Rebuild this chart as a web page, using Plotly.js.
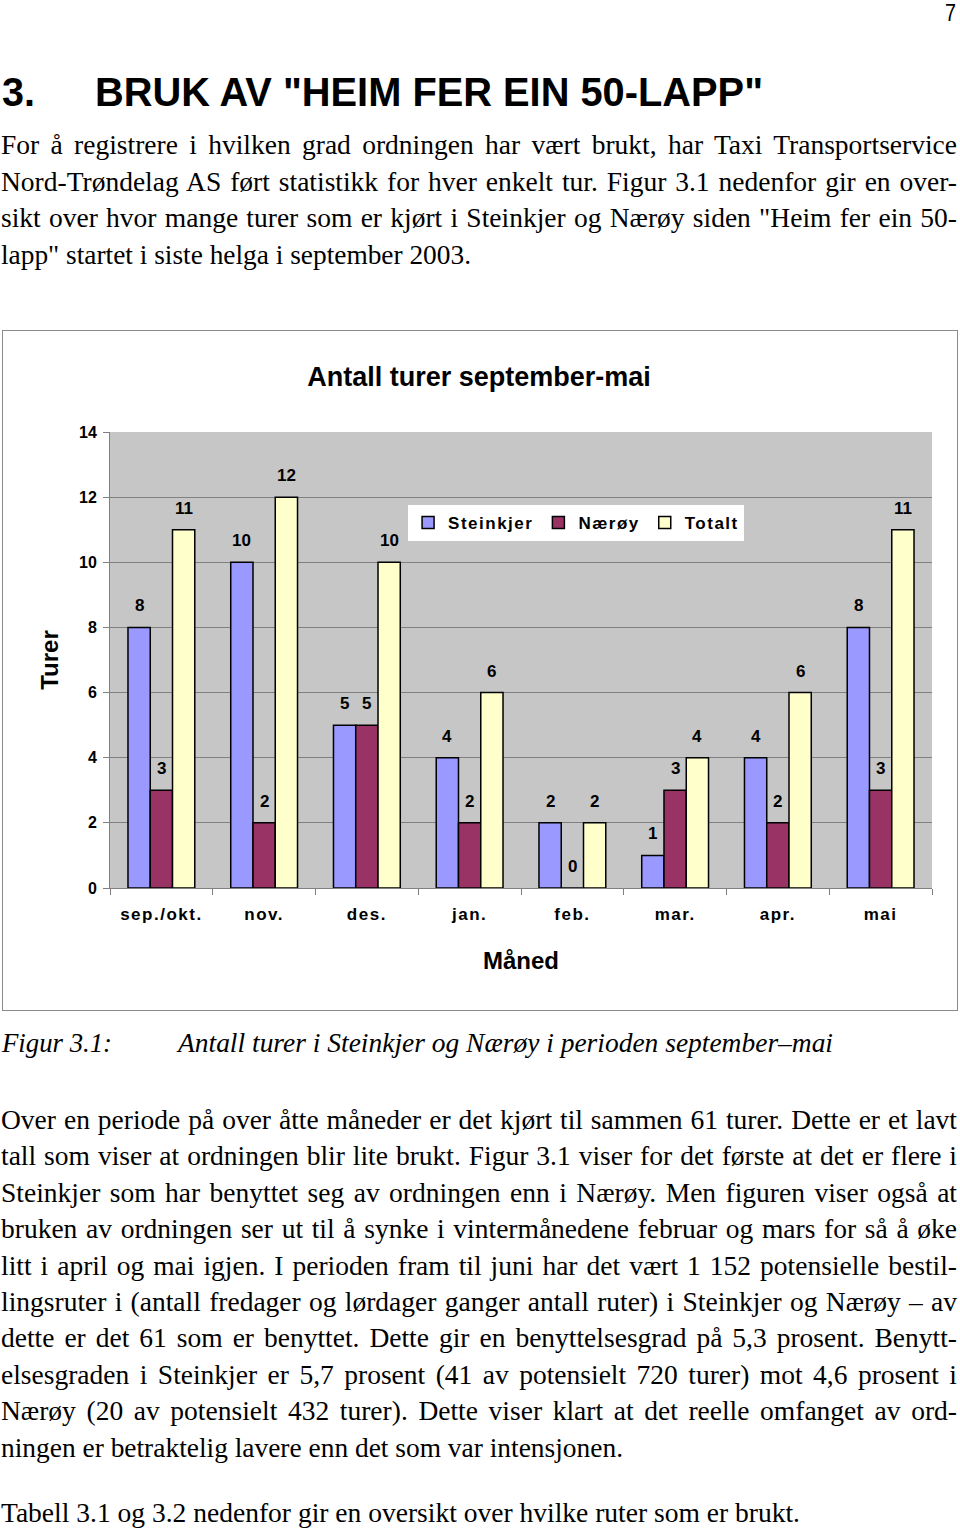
<!DOCTYPE html>
<html>
<head>
<meta charset="utf-8">
<script src="https://cdn.plot.ly/plotly-3.0.1.min.js"></script>
<style>
  html, body { margin:0; padding:0; background:#fff; }
  body { width:960px; height:1531px; position:relative; overflow:hidden; }
  #page { position:absolute; left:0; top:0; }
  #chart { position:absolute; left:2px; top:330px; width:956px; height:681px; }
  #frame { position:absolute; left:2px; top:330px; width:956px; height:681px; box-sizing:border-box; border:1.5px solid #8a8a8a; pointer-events:none; }
  .xtick text { letter-spacing:1.5px; }
  text.legendtext { letter-spacing:1.5px; }
</style>
</head>
<body>
<svg id="page" width="960" height="1531" xmlns="http://www.w3.org/2000/svg"></svg>
<div id="chart"></div>
<div id="frame"></div>
<script>
// ---------- chart data ----------
const months = ['sep./okt.', 'nov.', 'des.', 'jan.', 'feb.', 'mar.', 'apr.', 'mai'];
const steinkjer = [8, 10, 5, 4, 2, 1, 4, 8];
const naeroy    = [3, 2, 5, 2, 0, 3, 2, 3];
const totalt    = [11, 12, 10, 6, 2, 4, 6, 11];
const seriesNames = ['Steinkjer', 'Nærøy', 'Totalt'];
const seriesColors = ['#9999ff', '#993366', '#ffffcc'];
const chartTitle = 'Antall turer september-mai';
const xTitle = 'Måned';
const yTitle = 'Turer';
const yTicks = [0, 2, 4, 6, 8, 10, 12, 14];

// ---------- page text ----------
const pageNumber = '7';
const headingNum = '3.';
const headingText = 'BRUK AV "HEIM FER EIN 50-LAPP"';
const para1 = [
  'For å registrere i hvilken grad ordningen har vært brukt, har Taxi Transportservice',
  'Nord-Trøndelag AS ført statistikk for hver enkelt tur. Figur 3.1 nedenfor gir en over-',
  'sikt over hvor mange turer som er kjørt i Steinkjer og Nærøy siden "Heim fer ein 50-',
  'lapp" startet i siste helga i september 2003.'
];
const captionLabel = 'Figur 3.1:';
const captionText = 'Antall turer i Steinkjer og Nærøy i perioden september–mai';
const para2 = [
  'Over en periode på over åtte måneder er det kjørt til sammen 61 turer. Dette er et lavt',
  'tall som viser at ordningen blir lite brukt. Figur 3.1 viser for det første at det er flere i',
  'Steinkjer som har benyttet seg av ordningen enn i Nærøy. Men figuren viser også at',
  'bruken av ordningen ser ut til å synke i vintermånedene februar og mars for så å øke',
  'litt i april og mai igjen. I perioden fram til juni har det vært 1 152 potensielle bestil-',
  'lingsruter i (antall fredager og lørdager ganger antall ruter) i Steinkjer og Nærøy – av',
  'dette er det 61 som er benyttet. Dette gir en benyttelsesgrad på 5,3 prosent. Benytt-',
  'elsesgraden i Steinkjer er 5,7 prosent (41 av potensielt 720 turer) mot 4,6 prosent i',
  'Nærøy (20 av potensielt 432 turer). Dette viser klart at det reelle omfanget av ord-',
  'ningen er betraktelig lavere enn det som var intensjonen.'
];
const para3 = ['Tabell 3.1 og 3.2 nedenfor gir en oversikt over hvilke ruter som er brukt.'];

// ---------- draw page text ----------
const NS = 'http://www.w3.org/2000/svg';
const svg = document.getElementById('page');
const SERIF = "'Liberation Serif', 'Times New Roman', serif";
const SANS = "'Liberation Sans', Arial, sans-serif";
function addText(str, x, y, o) {
  const t = document.createElementNS(NS, 'text');
  t.setAttribute('x', x);
  t.setAttribute('y', y);
  t.setAttribute('font-family', o.family || SERIF);
  t.setAttribute('font-size', o.size || 27.5);
  if (o.weight) t.setAttribute('font-weight', o.weight);
  if (o.italic) t.setAttribute('font-style', 'italic');
  t.setAttribute('fill', '#000');
  t.style.whiteSpace = 'pre';
  t.textContent = str;
  svg.appendChild(t);
  if (o.width) {
    const w = t.getComputedTextLength();
    const n = (str.match(/ /g) || []).length;
    if (o.justify && w < o.width && n > 0) {
      t.style.wordSpacing = ((o.width - w) / n) + 'px';
    } else {
      t.setAttribute('textLength', o.width);
      t.setAttribute('lengthAdjust', 'spacingAndGlyphs');
    }
  }
  return t;
}
addText(pageNumber, 945, 21, {family: SANS, size: 24, width: 11});
addText(headingNum, 2, 106, {family: SANS, size: 40, weight: 'bold', width: 33});
addText(headingText, 95, 106, {family: SANS, size: 40, weight: 'bold', width: 668});
const p1Base = [154, 190.5, 227, 263.5];
para1.forEach((s, i) => {
  const last = i === para1.length - 1;
  addText(s, 1, p1Base[i], last ? {width: 470} : {width: 956, justify: true});
});
addText(captionLabel, 2, 1052, {italic: true, width: 110});
addText(captionText, 178, 1052, {italic: true, width: 655});
const p2Start = 1129, lh = 36.4;
para2.forEach((s, i) => {
  const last = i === para2.length - 1;
  addText(s, 1, p2Start + i * lh, last ? {width: 622} : {width: 956, justify: true});
});
addText(para3[0], 1, 1522, {width: 799});

// ---------- chart ----------
const allSeries = [steinkjer, naeroy, totalt];
const bargap = 0.35;
const bw = (1 - bargap) / 3;
const traces = allSeries.map((vals, k) => ({
  type: 'bar',
  name: seriesNames[k],
  x: months,
  y: vals,
  marker: {color: seriesColors[k], line: {color: '#000', width: 1.5}},
  hoverinfo: 'skip'
}));
const labelFont = {family: SANS, size: 17, weight: 'bold', color: '#000'};
const annotations = [];
allSeries.forEach((vals, k) => {
  vals.forEach((v, i) => {
    annotations.push({
      xref: 'x', yref: 'y', x: i + (k - 1) * bw, y: v,
      text: String(v), showarrow: false, yanchor: 'bottom', yshift: 10,
      font: labelFont
    });
  });
});
const layout = {
  width: 956, height: 681,
  margin: {l: 108, r: 26, t: 102, b: 123},
  paper_bgcolor: 'rgba(0,0,0,0)',
  plot_bgcolor: '#c6c6c6',
  barmode: 'group',
  bargap: bargap,
  bargroupgap: 0,
  showlegend: true,
  font: {family: SANS, color: '#000'},
  title: {
    text: chartTitle,
    font: {family: SANS, size: 27, weight: 'bold', color: '#000'},
    x: 0.499, xanchor: 'center', xref: 'container',
    y: 1 - 47 / 681, yanchor: 'middle', yref: 'container'
  },
  legend: {
    orientation: 'h', x: 0.567, xanchor: 'center', y: 0.84, yanchor: 'top',
    bgcolor: '#ffffff', borderwidth: 0,
    font: {family: SANS, size: 17, weight: 'bold', color: '#000'},
    traceorder: 'normal', itemclick: false, itemwidth: 30
  },
  xaxis: {
    type: 'category',
    showline: true, linecolor: '#808080', linewidth: 1,
    ticks: 'outside', tickson: 'boundaries', ticklen: 6, tickcolor: '#808080',
    showgrid: false,
    tickfont: {family: SANS, size: 17, weight: 'bold', color: '#000'},
    ticklabelstandoff: 11,
    title: {text: xTitle, font: {family: SANS, size: 24, weight: 'bold', color: '#000'}, standoff: 28},
    fixedrange: true
  },
  yaxis: {
    range: [0, 14], tickvals: yTicks,
    showline: true, linecolor: '#808080', linewidth: 1,
    ticks: 'outside', ticklen: 6, tickcolor: '#808080',
    showgrid: true, gridcolor: '#808080', gridwidth: 1,
    zeroline: false,
    tickfont: {family: SANS, size: 16, weight: 'bold', color: '#000'},
    ticklabelstandoff: 3,
    title: {text: yTitle, font: {family: SANS, size: 24, weight: 'bold', color: '#000'}, standoff: 13},
    fixedrange: true
  },
  annotations: annotations
};
Plotly.newPlot('chart', traces, layout, {displayModeBar: false, staticPlot: true});
</script>
</body>
</html>
